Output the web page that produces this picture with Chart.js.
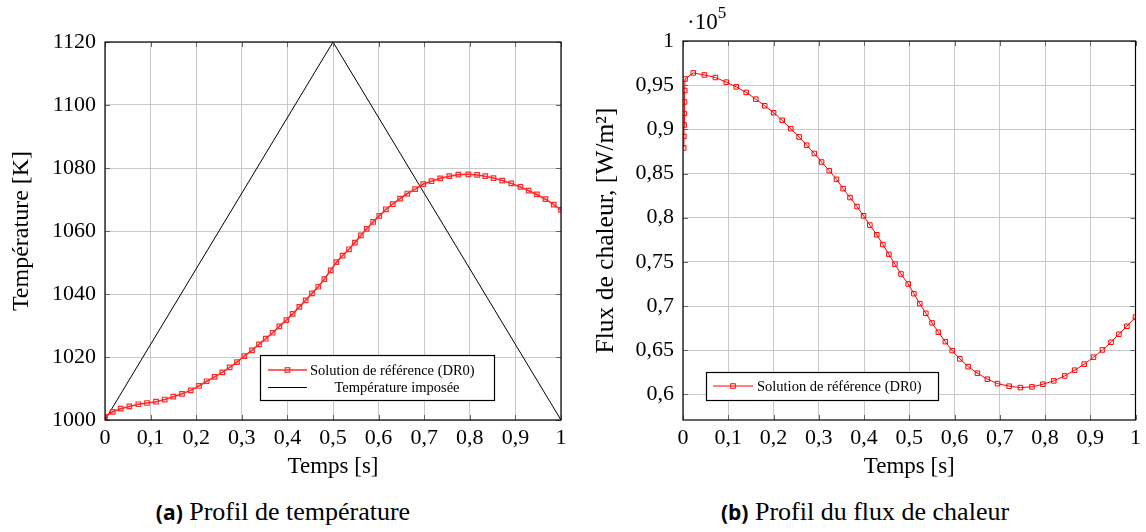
<!DOCTYPE html>
<html>
<head>
<meta charset="utf-8">
<script src="https://cdn.jsdelivr.net/npm/chart.js@4.4.1/dist/chart.umd.min.js"></script>
<style>
  body { margin: 0; background: #fff; }
  #wrap { position: relative; width: 1146px; height: 532px; overflow: hidden; background: #fff; }
  canvas { position: absolute; top: 0; }
  .caption { position: absolute; top: 497px; font-family: "Liberation Serif", serif; font-size: 26px; white-space: nowrap; transform: translateX(-50%); color: #000; }
  .caption b { font-family: "Open Sans", sans-serif; font-size: 21px; font-weight: 700; }
  .expo { position: absolute; left: 687px; top: 5px; font-family: "Liberation Serif", serif; font-size: 23px; color: #000; }
  .expo sup { font-size: 17px; position: relative; top: -2px; }
</style>
</head>
<body>
<div id="wrap">
  <canvas id="chart-temp" width="575" height="481" style="left:0"></canvas>
  <canvas id="chart-flux" width="566" height="481" style="left:580px"></canvas>
  <div class="expo">·10<sup>5</sup></div>
  <div class="caption" style="left:283px"><b>(a)</b> Profil de température</div>
  <div class="caption" style="left:865px"><b>(b)</b> Profil du flux de chaleur</div>
</div>
<script>
// ---- data ----
const timeTemp = [0, 0.0168, 0.0344, 0.0533, 0.0731, 0.0921, 0.1118, 0.1309, 0.1498, 0.1689,
  0.1879, 0.2061, 0.2230, 0.2405, 0.2573, 0.2734, 0.2895, 0.3055, 0.3224, 0.3377,
  0.3524, 0.3677, 0.3823, 0.3977, 0.4115, 0.4261, 0.4401, 0.4539, 0.4678, 0.4810,
  0.4949, 0.5075, 0.521, 0.535, 0.548, 0.561, 0.574, 0.588, 0.6015, 0.616,
  0.631, 0.647, 0.663, 0.680, 0.698, 0.716, 0.735, 0.755, 0.775, 0.797,
  0.816, 0.834, 0.852, 0.871, 0.891, 0.911, 0.929, 0.947, 0.966, 0.984, 1.0];
const tempRef = [1001, 1002.6, 1003.6, 1004.3, 1005.0, 1005.4, 1005.8, 1006.5, 1007.4, 1008.3,
  1009.4, 1010.8, 1012.3, 1013.7, 1015.1, 1016.7, 1018.4, 1020.3, 1022.1, 1024.0,
  1025.8, 1027.7, 1029.7, 1031.7, 1033.7, 1035.9, 1038.0, 1040.2, 1042.3, 1044.7,
  1047.5, 1050.1, 1052.2, 1054.2, 1056.3, 1058.6, 1060.7, 1062.9, 1064.8, 1066.9,
  1068.5, 1070.3, 1071.9, 1073.3, 1074.9, 1075.8, 1076.7, 1077.4, 1077.9, 1078.0,
  1077.8, 1077.4, 1076.8, 1076.0, 1075.1, 1074.0, 1072.8, 1071.6, 1070.1, 1068.4, 1066.7];
const timeImposed = [0, 0.5, 1];
const tempImposed = [1000, 1120, 1000];

const timeFlux = [0.0015, 0.002, 0.0025, 0.003, 0.0035, 0.004, 0.0045, 0.0226, 0.0472, 0.0716,
  0.0957, 0.1177, 0.1396, 0.1608, 0.1806, 0.2003, 0.2193, 0.2383, 0.2566, 0.2734,
  0.2902, 0.3063, 0.3231, 0.3392, 0.3538, 0.3691, 0.3845, 0.3991, 0.4130, 0.4283,
  0.4417, 0.4550, 0.4683, 0.4817, 0.4978, 0.5102, 0.5234, 0.5366, 0.5504, 0.5643,
  0.5797, 0.5950, 0.6118, 0.6301, 0.6506, 0.6725, 0.6952, 0.7208, 0.7456, 0.7712,
  0.7953, 0.8195, 0.8436, 0.8655, 0.8866, 0.9072, 0.9270, 0.9459, 0.9634, 0.9809, 1.0];
const fluxRef = [0.879, 0.892, 0.905, 0.918, 0.931, 0.944, 0.957, 0.9639, 0.9616, 0.9587,
  0.9534, 0.9481, 0.9418, 0.9342, 0.9267, 0.9188, 0.9102, 0.9008, 0.8914, 0.8821,
  0.8727, 0.8630, 0.8532, 0.8434, 0.8329, 0.8228, 0.8126, 0.8021, 0.7916, 0.7807,
  0.7696, 0.7585, 0.7474, 0.7363, 0.7250, 0.7140, 0.7027, 0.6918, 0.6809, 0.6704,
  0.6597, 0.6496, 0.6402, 0.6314, 0.6240, 0.6172, 0.6122, 0.6093, 0.6077, 0.6085,
  0.6115, 0.6153, 0.6209, 0.6274, 0.6342, 0.6421, 0.6503, 0.6590, 0.6681, 0.6771, 0.6875];

const timeTicks = [0, 0.1, 0.2, 0.3, 0.4, 0.5, 0.6, 0.7, 0.8, 0.9, 1];
const tempTicks = [1000, 1020, 1040, 1060, 1080, 1100, 1120];
const fluxTicks = [0.6, 0.65, 0.7, 0.75, 0.8, 0.85, 0.9, 0.95, 1];

// ---- helpers ----
const toPoints = (xs, ys) => xs.map((x, i) => ({ x, y: ys[i] }));
const fmt = (v) => String(Math.round(v * 100) / 100).replace(".", ",");
const SERIF = '"Liberation Serif", "Times New Roman", serif';
const GRID = "#c9c9c9";

// border + small inward ticks like pgfplots
const framePlugin = {
  id: "frame",
  afterDatasetsDraw(chart) {
    const { ctx, chartArea: a, scales } = chart;
    ctx.save();
    ctx.strokeStyle = "#666";
    ctx.lineWidth = 1;
    ctx.beginPath();
    scales.x.ticks.forEach((t) => {
      const px = Math.round(scales.x.getPixelForValue(t.value)) + 0.5;
      ctx.moveTo(px, a.bottom); ctx.lineTo(px, a.bottom - 5);
      ctx.moveTo(px, a.top); ctx.lineTo(px, a.top + 5);
    });
    scales.y.ticks.forEach((t) => {
      const py = Math.round(scales.y.getPixelForValue(t.value)) + 0.5;
      ctx.moveTo(a.left, py); ctx.lineTo(a.left + 5, py);
      ctx.moveTo(a.right, py); ctx.lineTo(a.right - 5, py);
    });
    ctx.stroke();
    ctx.strokeStyle = "#000";
    ctx.lineWidth = 1.2;
    ctx.strokeRect(a.left, a.top, a.right - a.left, a.bottom - a.top);
    ctx.restore();
  },
};

// boxed legend drawn over the plot
const legendBoxPlugin = {
  id: "legendBox",
  afterDraw(chart, args, opts) {
    if (!opts.rows) return;
    const ctx = chart.ctx;
    ctx.save();
    ctx.fillStyle = "#fff";
    ctx.fillRect(opts.x, opts.y, opts.w, opts.h);
    ctx.strokeStyle = "#000";
    ctx.lineWidth = 1.2;
    ctx.strokeRect(opts.x + 0.5, opts.y + 0.5, opts.w, opts.h);
    ctx.font = opts.font;
    ctx.textBaseline = "middle";
    opts.rows.forEach((row) => {
      const ds = chart.data.datasets[row.dataset];
      ctx.strokeStyle = ds.borderColor;
      ctx.lineWidth = ds.borderWidth;
      ctx.beginPath();
      ctx.moveTo(row.x0, row.y);
      ctx.lineTo(row.x1, row.y);
      ctx.stroke();
      if (ds.pointRadius > 0) {
        const s = 2 * Math.SQRT1_2 * ds.pointRadius;
        const mx = (row.x0 + row.x1) / 2;
        ctx.lineWidth = ds.pointBorderWidth;
        ctx.strokeRect(mx - s / 2, row.y - s / 2, s, s);
      }
      ctx.fillStyle = "#000";
      ctx.textAlign = row.align;
      ctx.fillText(ds.label, row.tx, row.y + 1);
    });
    ctx.restore();
  },
};

function timeScale(height) {
  return {
    type: "linear",
    min: 0,
    max: 1,
    afterBuildTicks: (s) => { s.ticks = timeTicks.map((v) => ({ value: v })); },
    afterFit: (s) => { s.height = height; },
    grid: { color: GRID, drawTicks: false },
    border: { display: false },
    ticks: { padding: 5, color: "#000", autoSkip: false, maxRotation: 0, font: { family: SERIF, size: 22 }, callback: (v) => fmt(v) },
    title: { display: true, text: "Temps [s]", color: "#000", font: { family: SERIF, size: 23 }, padding: { top: 0, bottom: 0 } },
  };
}

function valueScale(min, max, tickValues, width, label, titleSize, titlePad) {
  return {
    type: "linear",
    min,
    max,
    afterBuildTicks: (s) => { s.ticks = tickValues.map((v) => ({ value: v })); },
    afterFit: (s) => { s.width = width; },
    grid: { color: GRID, drawTicks: false },
    border: { display: false },
    ticks: { padding: 9, color: "#000", autoSkip: false, font: { family: SERIF, size: 22 }, callback: (v) => fmt(v) },
    title: { display: true, text: label, color: "#000", font: { family: SERIF, size: titleSize }, padding: { top: titlePad, bottom: 0 } },
  };
}

const baseOptions = {
  responsive: false,
  animation: false,
  events: [],
  plugins: { legend: { display: false }, tooltip: { enabled: false } },
};

new Chart(document.getElementById("chart-temp"), {
  type: "line",
  data: {
    datasets: [
      {
        label: "Solution de référence (DR0)",
        data: toPoints(timeTemp, tempRef),
        borderColor: "#ff2b2b",
        borderWidth: 1.6,
        pointStyle: "rect",
        pointRadius: 3.2,
        pointBorderWidth: 1.2,
        pointBorderColor: "#ff2b2b",
        pointBackgroundColor: "rgba(0,0,0,0)",
        tension: 0,
      },
      {
        label: "Température imposée",
        data: toPoints(timeImposed, tempImposed),
        borderColor: "#000",
        borderWidth: 1,
        pointRadius: 0,
        tension: 0,
      },
    ],
  },
  options: {
    ...baseOptions,
    layout: { padding: { top: 42, right: 14, left: 0, bottom: 0 } },
    scales: {
      x: timeScale(61),
      y: valueScale(1000, 1120, tempTicks, 105, "Température [K]", 24, 7),
    },
    plugins: {
      ...baseOptions.plugins,
      legendBox: {
        x: 260, y: 355, w: 234, h: 45,
        font: "14.5px " + SERIF,
        rows: [
          { dataset: 0, x0: 268, x1: 307, y: 370, tx: 310, align: "left" },
          { dataset: 1, x0: 268, x1: 307, y: 387.5, tx: 397, align: "center" },
        ],
      },
    },
  },
  plugins: [framePlugin, legendBoxPlugin],
});

new Chart(document.getElementById("chart-flux"), {
  type: "line",
  data: {
    datasets: [
      {
        label: "Solution de référence (DR0)",
        data: toPoints(timeFlux, fluxRef),
        borderColor: "#ff0000",
        borderWidth: 1,
        pointStyle: "rect",
        pointRadius: 3.2,
        pointBorderWidth: 1,
        pointBorderColor: "#ff0000",
        pointBackgroundColor: "rgba(0,0,0,0)",
        tension: 0,
      },
    ],
  },
  options: {
    ...baseOptions,
    layout: { padding: { top: 41, right: 7, left: 0, bottom: 0 } },
    scales: {
      x: timeScale(61),
      y: valueScale(0.571, 1, fluxTicks, 103, "Flux de chaleur, [W/m²]", 25.5, 11),
    },
    plugins: {
      ...baseOptions.plugins,
      legendBox: {
        x: 126, y: 372, w: 232, h: 28,
        font: "14.5px " + SERIF,
        rows: [
          { dataset: 0, x0: 133, x1: 173, y: 386, tx: 177, align: "left" },
        ],
      },
    },
  },
  plugins: [framePlugin, legendBoxPlugin],
});
</script>
</body>
</html>
